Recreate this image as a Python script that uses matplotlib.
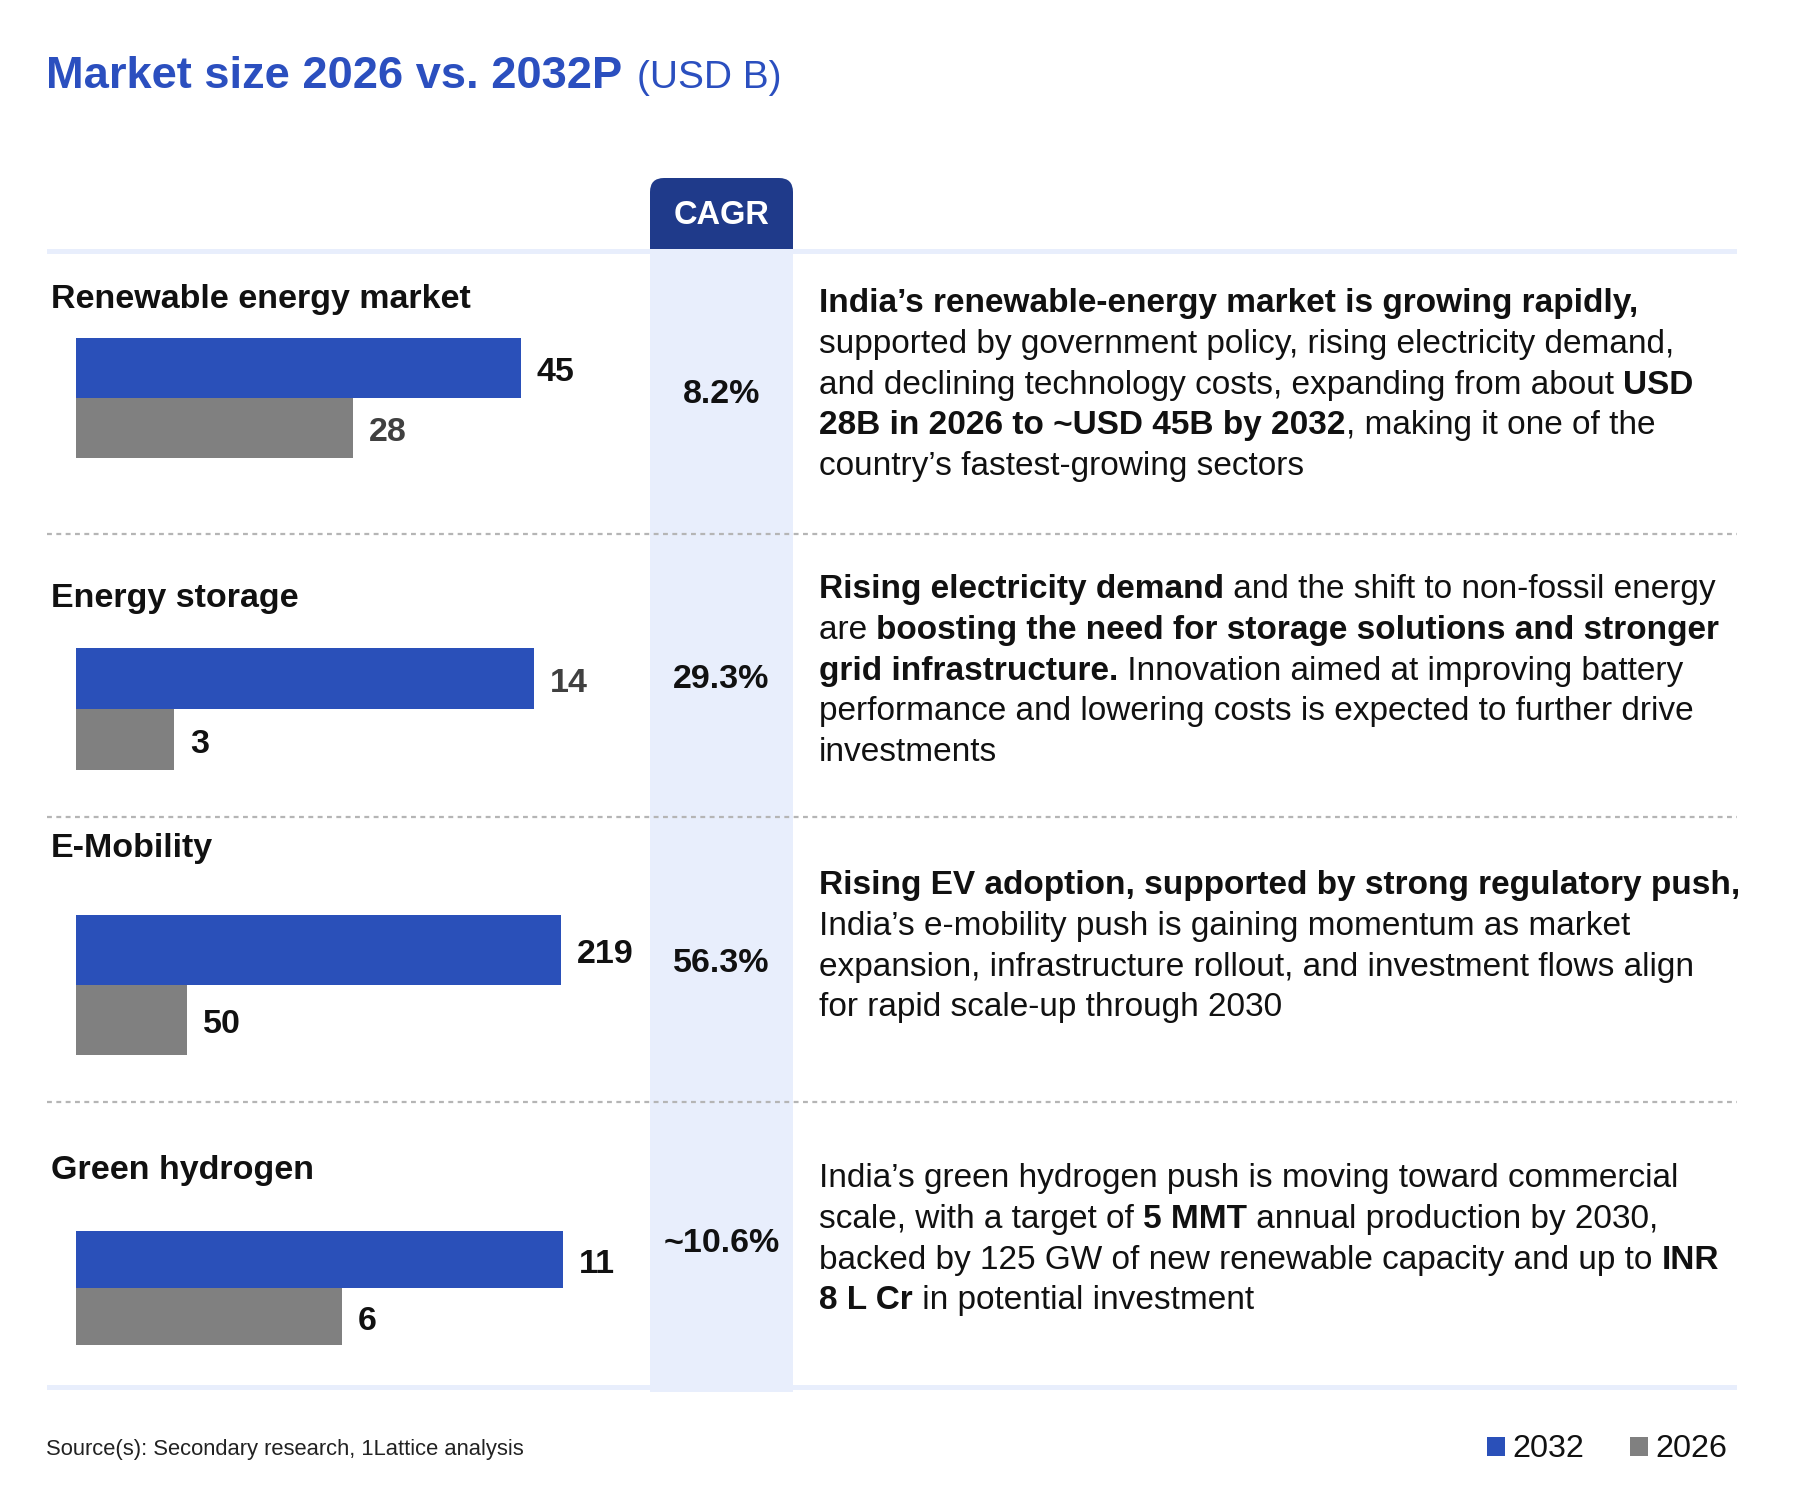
import matplotlib
matplotlib.use('Agg')
import matplotlib.pyplot as plt
from matplotlib.patches import Rectangle, FancyBboxPatch

plt.rcParams['font.family'] = ['Liberation Sans', 'DejaVu Sans']

# data
segments = ['Renewable energy market', 'Energy storage', 'E-Mobility', 'Green hydrogen']
v2032 = [45, 14, 219, 11]
v2026 = [28, 3, 50, 6]
cagr = ['8.2%', '29.3%', '56.3%', '~10.6%']
lab2032_col = ['#111111', '#404040', '#111111', '#111111']
lab2026_col = ['#404040', '#111111', '#111111', '#111111']

# description text, line by line: (text, bold)
desc = [
    [[("India\u2019s renewable-energy market is growing rapidly,", True)],
     [("supported by government policy, rising electricity demand,", False)],
     [("and declining technology costs, expanding from about ", False), ("USD", True)],
     [("28B in 2026 to ~USD 45B by 2032", True), (", making it one of the", False)],
     [("country\u2019s fastest-growing sectors", False)]],
    [[("Rising electricity demand", True), (" and the shift to non-fossil energy", False)],
     [("are ", False), ("boosting the need for storage solutions and stronger", True)],
     [("grid infrastructure.", True), (" Innovation aimed at improving battery", False)],
     [("performance and lowering costs is expected to further drive", False)],
     [("investments", False)]],
    [[("Rising EV adoption, supported by strong regulatory push,", True)],
     [("India\u2019s e-mobility push is gaining momentum as market", False)],
     [("expansion, infrastructure rollout, and investment flows align", False)],
     [("for rapid scale-up through 2030", False)]],
    [[("India\u2019s green hydrogen push is moving toward commercial", False)],
     [("scale, with a target of ", False), ("5 MMT", True), (" annual production by 2030,", False)],
     [("backed by 125 GW of new renewable capacity and up to ", False), ("INR", True)],
     [("8 L Cr", True), (" in potential investment", False)]],
]

# colours
BLUE = '#2a50b9'
GRAY = '#808080'
NAVY = '#1f3a8a'
LIGHT = '#e8eefc'
TITLE_BLUE = '#2b4fbf'
DOT = '#b5b5b5'

# layout (pixel positions on a 1800x1500 canvas)
W, H = 1800, 1500
label_base = [308, 607, 857, 1179]
bar_top = [338, 648, 915, 1231]
bar_h = [60, 61, 70, 57]
bar_w = [445, 458, 485, 487]
cagr_y = [391, 676, 960, 1240]
desc_base = [312, 598, 894, 1187]
seps = [534, 817, 1102]
line_gap = 40.8
FS_DESC = 24
FS_BIG = 24.5

fig = plt.figure(figsize=(18, 15), dpi=100)
bg = fig.add_axes([0, 0, 1, 1])
bg.set_xlim(0, W)
bg.set_ylim(H, 0)
bg.axis('off')
renderer = fig.canvas.get_renderer()


def text_width(s, size, bold):
    # measure with guards so leading/trailing spaces count
    wt = 'bold' if bold else 'normal'
    t1 = bg.text(0, 0, '|' + s + '|', fontsize=size, fontweight=wt)
    t2 = bg.text(0, 0, '||', fontsize=size, fontweight=wt)
    w = t1.get_window_extent(renderer).width - t2.get_window_extent(renderer).width
    t1.remove()
    t2.remove()
    return w


def rich_line(x, y, parts, size, color='#111111'):
    for s, b in parts:
        bg.text(x, y, s, fontsize=size, fontweight='bold' if b else 'normal',
                color=color, va='baseline', ha='left')
        x += text_width(s, size, b)


# title
rich_line(46, 88, [("Market size 2026 vs. 2032P ", True)], 32.6, TITLE_BLUE)
bg.text(637, 88, "(USD B)", fontsize=28, color=TITLE_BLUE, va='baseline')

# CAGR column and tab
bg.add_patch(Rectangle((650, 249), 143, 1143, color=LIGHT, lw=0, zorder=0))
bg.add_patch(FancyBboxPatch((650, 178), 143, 71, boxstyle='round,pad=0,rounding_size=14',
                            color=NAVY, lw=0, zorder=1))
bg.add_patch(Rectangle((650, 215), 143, 34, color=NAVY, lw=0, zorder=1))
bg.text(721.5, 212, 'CAGR', fontsize=23.5, fontweight='bold', color='white',
        ha='center', va='center_baseline', zorder=2)

# rules
bg.add_patch(Rectangle((47, 249), 1690, 5, color=LIGHT, lw=0, zorder=1))
bg.add_patch(Rectangle((47, 1385), 1690, 5, color=LIGHT, lw=0, zorder=1))
for y in seps:
    bg.plot([47, 1737], [y, y], color=DOT, lw=1.6, ls=(0, (2.2, 2.0)), zorder=2)

for i in range(len(segments)):
    bg.text(51, label_base[i], segments[i], fontsize=FS_BIG, fontweight='bold',
            color='#111111', va='baseline')
    bg.text(721.5, cagr_y[i], cagr[i], fontsize=FS_BIG, fontweight='bold',
            color='#111111', ha='center', va='center_baseline', zorder=3)

    ax = fig.add_axes([76 / W, 1 - (bar_top[i] + 2 * bar_h[i]) / H,
                       bar_w[i] / W, 2 * bar_h[i] / H])
    ax.barh([1, 0], [v2032[i], v2026[i]], height=1.0, color=[BLUE, GRAY], lw=0)
    ax.set_xlim(0, v2032[i])
    ax.set_ylim(-0.5, 1.5)
    ax.axis('off')
    ax.annotate(str(v2032[i]), xy=(v2032[i], 1), xytext=(11.5, -1), textcoords='offset points',
                fontsize=FS_BIG, fontweight='bold', color=lab2032_col[i], va='center_baseline',
                annotation_clip=False)
    ax.annotate(str(v2026[i]), xy=(v2026[i], 0), xytext=(11.5, -1), textcoords='offset points',
                fontsize=FS_BIG, fontweight='bold', color=lab2026_col[i], va='center_baseline',
                annotation_clip=False)

    for k, line in enumerate(desc[i]):
        rich_line(819, desc_base[i] + k * line_gap, line, FS_DESC)

# footer
bg.text(46, 1455, 'Source(s): Secondary research, 1Lattice analysis', fontsize=15.8,
        color='#222222', va='baseline')
bg.add_patch(Rectangle((1487, 1437), 18, 19, color=BLUE, lw=0))
bg.text(1512, 1457, '2032', fontsize=23.3, color='#111111', va='baseline')
bg.add_patch(Rectangle((1630, 1437), 18, 19, color=GRAY, lw=0))
bg.text(1655, 1457, '2026', fontsize=23.3, color='#111111', va='baseline')

fig.savefig('out.png', dpi=100, facecolor='white')
